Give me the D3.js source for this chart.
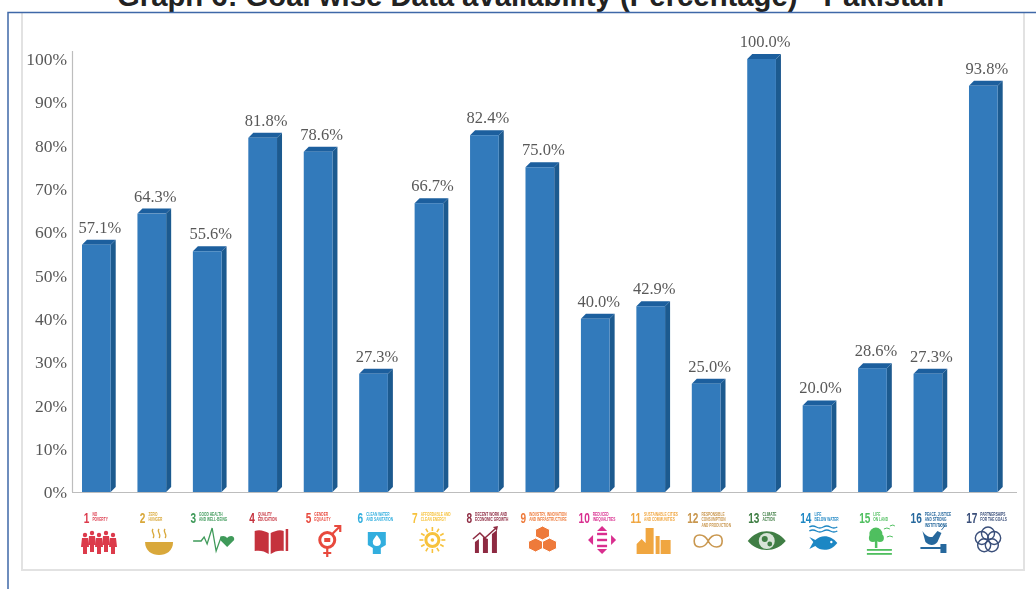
<!DOCTYPE html>
<html>
<head>
<meta charset="utf-8">
<script src="https://cdn.jsdelivr.net/npm/d3@7"></script>
<style>
html, body { margin: 0; padding: 0; background: #fff; overflow: hidden; }
svg { display: block; }
.tick-label { font-family: "Liberation Serif", serif; font-size: 17.5px; fill: #595959; }
.value-label { font-family: "Liberation Serif", serif; font-size: 16.5px; fill: #595959; }
.goal-no { font-family: "Liberation Sans", sans-serif; font-weight: bold; font-size: 14px; }
.goal-name { font-family: "Liberation Sans", sans-serif; font-weight: bold; font-size: 4.6px; }
</style>
</head>
<body>
<div id="chart"></div>
<script>
var titleText = "Graph 6: Goal wise Data availability (Percentage) - Pakistan";
var goals = ["1","2","3","4","5","6","7","8","9","10","11","12","13","14","15","16","17"];
var values = [57.1,64.3,55.6,81.8,78.6,27.3,66.7,82.4,75.0,40.0,42.9,25.0,100.0,20.0,28.6,27.3,93.8];
var yTicks = [0,10,20,30,40,50,60,70,80,90,100];
var goalNames = [
  ["NO","POVERTY"],["ZERO","HUNGER"],["GOOD HEALTH","AND WELL-BEING"],["QUALITY","EDUCATION"],
  ["GENDER","EQUALITY"],["CLEAN WATER","AND SANITATION"],["AFFORDABLE AND","CLEAN ENERGY"],
  ["DECENT WORK AND","ECONOMIC GROWTH"],["INDUSTRY, INNOVATION","AND INFRASTRUCTURE"],
  ["REDUCED","INEQUALITIES"],["SUSTAINABLE CITIES","AND COMMUNITIES"],
  ["RESPONSIBLE","CONSUMPTION","AND PRODUCTION"],["CLIMATE","ACTION"],["LIFE","BELOW WATER"],
  ["LIFE","ON LAND"],["PEACE, JUSTICE","AND STRONG","INSTITUTIONS"],["PARTNERSHIPS","FOR THE GOALS"]
];
var goalColors = ["#dc3a4c","#d9a83a","#3f9a5a","#c5303c","#e8483c","#30aede","#f7c23c","#8e2b42","#ee7a3a",
  "#d92f8f","#f0a640","#c9974f","#3f7e44","#1f87c4","#4fbf5f","#27689d","#3a4f7a"];

var width = 1036, height = 589;
var svg = d3.select("#chart").append("svg").attr("width", width).attr("height", height);
var defs = svg.append("defs");
defs.append("filter").attr("id", "soft").append("feGaussianBlur").attr("stdDeviation", 0.6);

var baseY = 492, topY = 59, depth = 5;
var x = d3.scaleBand().domain(goals).range([82, 997.7]).paddingInner(0.482).paddingOuter(0).align(0);
var y = d3.scaleLinear().domain([0, 100]).range([baseY, topY]);
var iconX = d3.scalePoint().domain(goals).range([99, 988]);

// frame
svg.append("text").attr("x", 530.5).attr("y", 6).attr("text-anchor", "middle")
  .style("font-family", "'Liberation Sans', Arial, sans-serif").style("font-weight", "bold")
  .style("font-size", "29.3px").style("fill", "#222").text(titleText);
svg.append("rect").attr("x", 0).attr("y", 12).attr("width", width).attr("height", height).attr("fill", "#fff");
svg.append("path").attr("d", "M22,13V570H1024V13").attr("fill", "none").attr("stroke", "#e2e2e2").attr("stroke-width", 2);
svg.append("path").attr("d", "M8,589V12.5H1036").attr("fill", "none").attr("stroke", "#3f68a8").attr("stroke-width", 1.5);

var plot = svg.append("g").attr("filter", "url(#soft)");

// axes
var yAxis = d3.axisLeft(y).tickValues(yTicks).tickSize(0).tickPadding(5).tickFormat(function (d) { return d + "%"; });
var yG = plot.append("g").attr("transform", "translate(72,0)").call(yAxis);
yG.select(".domain").remove();
yG.selectAll("text").attr("class", "tick-label");
plot.append("line").attr("x1", 72.5).attr("x2", 72.5).attr("y1", 51).attr("y2", baseY).attr("stroke", "#bdbdbd").attr("stroke-width", 1.2);
plot.append("line").attr("x1", 72).attr("x2", 1017).attr("y1", baseY + 0.5).attr("y2", baseY + 0.5).attr("stroke", "#bdbdbd").attr("stroke-width", 1.2);

// bars
var bars = plot.selectAll(".bar").data(values).enter().append("g").attr("class", "bar");
bars.append("path").attr("fill", "#1f5a8f").attr("d", function (d, i) {
  var r = x(goals[i]) + x.bandwidth();
  return "M" + r + "," + y(d) + "L" + (r + depth) + "," + (y(d) - depth) + "V" + (baseY - depth) + "L" + r + "," + baseY + "Z";
});
bars.append("path").attr("fill", "#1c5f9e").attr("d", function (d, i) {
  var l = x(goals[i]), r = l + x.bandwidth();
  return "M" + l + "," + y(d) + "L" + (l + depth) + "," + (y(d) - depth) + "H" + (r + depth) + "L" + r + "," + y(d) + "Z";
});
bars.append("rect").attr("fill", "#337abb")
  .attr("x", function (d, i) { return x(goals[i]); }).attr("y", function (d) { return y(d); })
  .attr("width", x.bandwidth()).attr("height", function (d) { return baseY - y(d); });
bars.append("text").attr("class", "value-label").attr("text-anchor", "middle")
  .attr("x", function (d, i) { return x(goals[i]) + x.bandwidth() / 2 + 3.5; })
  .attr("y", function (d) { return y(d) - 12; })
  .text(function (d) { return d.toFixed(1) + "%"; });

// goal captions, number + name centred as one group, squeezed to a condensed look
goals.forEach(function (g, i) {
  var cap = plot.append("g").style("fill", goalColors[i]);
  var no = cap.append("text").attr("class", "goal-no").attr("y", 523).text(g);
  var lines = goalNames[i];
  var names = cap.selectAll(".goal-name").data(lines).enter().append("text").attr("class", "goal-name")
    .attr("y", function (d, k) { return 515.5 + k * 5.7; }).text(function (d) { return d; });
  var noW = no.node().getComputedTextLength() * 0.72;
  no.attr("textLength", noW).attr("lengthAdjust", "spacingAndGlyphs");
  names.each(function () {
    d3.select(this).attr("textLength", this.getComputedTextLength() * 0.7).attr("lengthAdjust", "spacingAndGlyphs");
  });
  var nameW = d3.max(names.nodes(), function (n) { return n.getComputedTextLength(); }) * 0.7;
  var start = iconX(g) - 5.5 - (noW + 3 + nameW) / 2;
  no.attr("x", start);
  names.attr("x", start + noW + 3);
});

// small pictograms, each drawn around (0,0) of its goal
function dot(s, cx, cy, r) { return s.append("circle").attr("cx", cx).attr("cy", cy).attr("r", r); }
function line(s, d, w) { return s.append("path").attr("d", d).attr("fill", "none").attr("stroke", "currentColor").attr("stroke-width", w || 1.5); }
function shape(s, d) { return s.append("path").attr("d", d); }
var icons = [
  function (s) { [-15, -8, -1, 6, 13].forEach(function (p, k) {
      var h = k % 2 ? 0 : 2;
      dot(s, p + 1, -7 + h, 2.2);
      shape(s, "M" + (p - 2) + "," + (-4 + h) + "h6l1,9h-2v7h-4v-7h-2z");
    }); },
  function (s) { shape(s, "M-13,2H15C15,11 8,15 1,15C-6,15 -13,11 -13,2Z");
    [-5, 1, 7].forEach(function (p) { line(s, "M" + p + ",-11c-3,3 3,5 0,9", 1.3); }); },
  function (s) { line(s, "M-17,1H-9L-6,-3L-3,4L2,-12L6,11L11,-3L14,1", 1.3);
    shape(s, "M17,7L10,0C9,-5 15,-5 17,-2C19,-5 25,-5 24,0Z"); },
  function (s) { shape(s, "M-13,-9C-8,-11 -3,-9 1,-7V14C-3,11 -8,10 -13,11Z M3,-7C7,-9 12,-11 16,-9V11C12,10 7,11 3,14Z");
    s.append("rect").attr("x", 18).attr("y", -11).attr("width", 2.5).attr("height", 22); },
  function (s) { s.append("circle").attr("cx", 0).attr("cy", 0).attr("r", 7.5).attr("fill", "none").attr("stroke", "currentColor").attr("stroke-width", 3);
    s.append("rect").attr("x", -3).attr("y", -2).attr("width", 6).attr("height", 4);
    line(s, "M5,-6L12,-13M7,-14H13V-8", 2.2); line(s, "M0,8V17M-4,13H4", 2.2); },
  function (s) { shape(s, "M-9,-8H9V5L4,8V14H-4V8L-9,5Z");
    s.append("path").attr("d", "M0,-5C3,-1 4,0 4,2A4,4 0 0 1 -4,2C-4,0 -3,-1 0,-5Z").attr("fill", "#fff"); },
  function (s) { s.append("circle").attr("r", 6.5).attr("fill", "none").attr("stroke", "currentColor").attr("stroke-width", 3); dot(s, 0, 0, 1.8);
    d3.range(12).forEach(function (k) { var a = k * Math.PI / 6;
      line(s, "M" + 9 * Math.cos(a) + "," + 9 * Math.sin(a) + "L" + 13 * Math.cos(a) + "," + 13 * Math.sin(a), 1.6); }); },
  function (s) { s.append("path").attr("d", "M-11,13V2L-7,-1V13Z M-3,13V-3L2,-1V13Z M6,13V-6L11,-10V13Z");
    line(s, "M-13,-1L-6,-7L-1,-2L9,-11", 1.6); shape(s, "M7,-13L12,-14L11,-9Z"); },
  function (s) { [[0, -7], [-7, 5], [7, 5]].forEach(function (c) {
      s.append("path").attr("transform", "translate(" + c[0] + "," + c[1] + ")")
        .attr("d", "M0,-7L7,-3.5V3.5L0,7L-7,3.5V-3.5Z").attr("stroke", "#fff").attr("stroke-width", 1); }); },
  function (s) { [-6, 0, 6].forEach(function (p) { s.append("rect").attr("x", -5).attr("y", p - 1.2).attr("width", 10).attr("height", 2.4); });
    shape(s, "M0,-14L5,-9H-5Z"); shape(s, "M0,14L5,9H-5Z"); shape(s, "M-14,0L-9,-5V5Z"); shape(s, "M14,0L9,-5V5Z"); },
  function (s) { s.append("path").attr("d", "M-17,14V4L-12,-1L-7,4V14Z M-8,14V-12H0V14Z M2,14V-4H6V14Z M7,14V0H17V14Z"); },
  function (s) { s.append("path").attr("d", "M0,1C-4,-7 -14,-7 -14,1C-14,9 -4,9 0,1C4,-7 14,-7 14,1C14,9 4,9 0,1Z")
      .attr("fill", "none").attr("stroke", "currentColor").attr("stroke-width", 1.6); },
  function (s) { shape(s, "M-19,1C-9,-12 9,-12 19,1C9,13 -9,13 -19,1Z");
    s.append("circle").attr("cy", 1).attr("r", 8).attr("fill", "#d8e4d8"); dot(s, -2, -1, 3); dot(s, 3, 4, 2.4); },
  function (s) { [-13, -9].forEach(function (p) { line(s, "M-14," + p + "q3.5,-2 7,0t7,0t7,0t7,0", 1.4); });
    shape(s, "M-14,-3L-10,2L-14,9L-8,6C-2,12 8,11 14,3C8,-5 -2,-6 -8,0Z");
    s.append("circle").attr("cx", 8).attr("cy", 2).attr("r", 1.2).attr("fill", "#fff"); },
  function (s) { dot(s, -4, -6, 6.5); dot(s, -7, -2, 4); dot(s, 0, -2, 4);
    s.append("rect").attr("x", -5).attr("y", 0).attr("width", 2.5).attr("height", 8);
    s.append("rect").attr("x", -13).attr("y", 9).attr("width", 25).attr("height", 1.8);
    s.append("rect").attr("x", -13).attr("y", 13).attr("width", 25).attr("height", 1.8);
    line(s, "M4,-11l3,-1l3,1M10,-14l3,-1l2,1M7,-3l3,-1l3,1", 1); },
  function (s) { shape(s, "M-10,-9C-6,-3 -3,-3 0,-3L5,-9L9,-7L5,2C2,6 -3,6 -7,2Z");
    line(s, "M9,-10L13,-15M7,-13l2,-3", 0.9);
    s.append("rect").attr("x", -12).attr("y", 7).attr("width", 22).attr("height", 2);
    s.append("rect").attr("x", 8).attr("y", 4).attr("width", 6).attr("height", 9); },
  function (s) { d3.range(5).forEach(function (k) { var a = -Math.PI / 2 + k * 2 * Math.PI / 5;
      s.append("circle").attr("cx", 6.5 * Math.cos(a)).attr("cy", 6.5 * Math.sin(a)).attr("r", 6.5)
        .attr("fill", "none").attr("stroke", "currentColor").attr("stroke-width", 1.4); }); }
];
var iconNudge = [0,3.5,0,2,6,0,0,-2,-1,3,-1,-2,1,2,3,0,0];
goals.forEach(function (g, i) {
  var s = plot.append("g").attr("transform", "translate(" + (iconX(g) + iconNudge[i]) + ",540)")
    .style("color", goalColors[i]).style("fill", goalColors[i]);
  icons[i](s);
});
</script>
</body>
</html>
